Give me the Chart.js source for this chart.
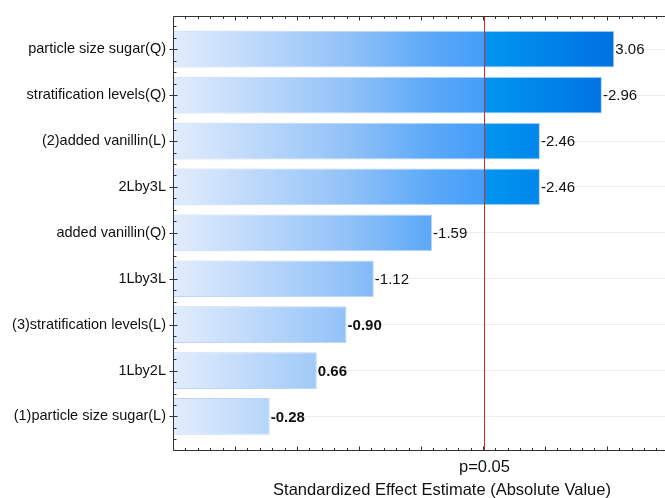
<!DOCTYPE html>
<html>
<head>
<meta charset="utf-8">
<script src="https://cdn.jsdelivr.net/npm/chart.js@4"></script>
<style>
  html, body { margin: 0; padding: 0; overflow: hidden; background: #fff; }
  #wrap { width: 713px; height: 498px; }
</style>
</head>
<body>
<div id="wrap"><canvas id="pareto"></canvas></div>
<script>
// Pareto chart of standardized effects
const factors = [
    'particle size sugar(Q)',
    'stratification levels(Q)',
    '(2)added vanillin(L)',
    '2Lby3L',
    'added vanillin(Q)',
    '1Lby3L',
    '(3)stratification levels(L)',
    '1Lby2L',
    '(1)particle size sugar(L)'
];
const effects = [3.06, 2.96, 2.46, 2.46, 1.59, 1.12, 0.90, 0.66, 0.28];
const effectLabels = ['3.06', '-2.96', '-2.46', '-2.46', '-1.59', '-1.12', '-0.90', '0.66', '-0.28'];
const pLimit = 2.01;
const pLabel = 'p=0.05';

const FONT = '"Liberation Sans", Arial, sans-serif';
const X_MIN = -0.5;
const X_MAX = 3.84;

function barGradient(context) {
    const chart = context.chart;
    const area = chart.chartArea;
    if (!area) return '#8fc0f8';
    const xs = chart.scales.x;
    const w = area.right - area.left;
    const f = v => Math.min(1, Math.max(0, (xs.getPixelForValue(v) - area.left) / w));
    const g = chart.ctx.createLinearGradient(area.left, 0, area.right, 0);
    g.addColorStop(0, '#e2edfc');
    g.addColorStop(f(0.9), '#92c2f8');
    g.addColorStop(f(1.6), '#5aa8f8');
    g.addColorStop(f(pLimit) - 0.001, '#459ef8');
    g.addColorStop(f(pLimit), '#0096f0');
    g.addColorStop(f(3.06), '#0070e2');
    g.addColorStop(1, '#0066dc');
    return g;
}

const decorations = {
    id: 'decorations',
    afterDatasetsDraw(chart) {
        const c = chart.ctx;
        const xs = chart.scales.x, ys = chart.scales.y;
        const a = chart.chartArea;
        const L = Math.round(a.left) + 0.5, T = Math.round(a.top) + 0.5, B = Math.round(a.bottom) + 0.5;
        c.save();
        // value labels
        c.textBaseline = 'middle';
        c.textAlign = 'left';
        c.fillStyle = '#111';
        effects.forEach((v, i) => {
            c.font = (i >= 6 ? 'bold ' : '') + '15px ' + FONT;
            c.fillText(effectLabels[i], xs.getPixelForValue(v) + 1, ys.getPixelForValue(i) + 1);
        });
        // red p-limit line
        const xr = Math.round(xs.getPixelForValue(pLimit)) + 0.5;
        c.strokeStyle = '#d42a2a';
        c.lineWidth = 1;
        c.beginPath(); c.moveTo(xr, T); c.lineTo(xr, B); c.stroke();
        c.fillStyle = '#111';
        c.font = '16.5px ' + FONT;
        c.textAlign = 'center';
        c.fillText(pLabel, xr, 467);
        // frame
        c.strokeStyle = '#333';
        c.beginPath();
        c.moveTo(L, T); c.lineTo(a.right, T);
        c.moveTo(L, T); c.lineTo(L, B);
        c.moveTo(L, B); c.lineTo(a.right, B);
        c.stroke();
        // ticks on top and bottom
        c.beginPath();
        for (let k = 0; ; k++) {
            const v = X_MIN + k * 0.1;
            if (v > X_MAX + 1e-9) break;
            const px = Math.round(xs.getPixelForValue(v)) + 0.5;
            const len = k % 5 === 0 ? 4 : 2.5;
            c.moveTo(px, T); c.lineTo(px, T + len);
            c.moveTo(px, B); c.lineTo(px, B - len);
        }
        // ticks on left axis
        for (let q = Math.ceil(ys.min * 4) / 4; q <= ys.max; q += 0.25) {
            const py = Math.round(ys.getPixelForValue(q)) + 0.5;
            if (Number.isInteger(q)) { c.moveTo(L - 4, py); c.lineTo(L + 4, py); }
            else { c.moveTo(L, py); c.lineTo(L + 3, py); }
        }
        c.stroke();
        c.restore();
    }
};

new Chart(document.getElementById('pareto').getContext('2d'), {
    type: 'bar',
    data: {
        datasets: [{
            data: effects.map((v, i) => ({ x: [X_MIN, v], y: i })),
            backgroundColor: barGradient,
            borderColor: 'rgba(110, 165, 235, 0.45)',
            borderWidth: 1,
            borderSkipped: false,
            barPercentage: 0.8,
            categoryPercentage: 1
        }]
    },
    options: {
        indexAxis: 'y',
        responsive: true,
        maintainAspectRatio: false,
        animation: false,
        layout: { padding: { top: 13, right: 2, left: 0, bottom: 0 } },
        plugins: { legend: { display: false }, tooltip: { enabled: false } },
        scales: {
            x: {
                type: 'linear',
                min: X_MIN,
                max: X_MAX,
                grid: { display: false },
                border: { display: false },
                ticks: { display: false },
                title: {
                    display: true,
                    text: 'Standardized Effect Estimate (Absolute Value)',
                    color: '#111',
                    font: { family: FONT, size: 16.5 },
                    padding: { top: 0, bottom: -2 }
                },
                afterFit(s) { s.height = 48; }
            },
            y: {
                type: 'linear',
                reverse: true,
                offset: false,
                min: -0.73,
                max: 8.73,
                afterBuildTicks(s) { s.ticks = factors.map((_, i) => ({ value: i })); },
                grid: { color: '#ededed', drawTicks: false, offset: false },
                border: { display: false },
                ticks: {
                    padding: 7,
                    color: '#111',
                    font: { family: FONT, size: 14.5 },
                    callback: v => factors[v]
                },
                afterFit(s) { s.width = 173; }
            }
        }
    },
    plugins: [decorations]
});
</script>
</body>
</html>
